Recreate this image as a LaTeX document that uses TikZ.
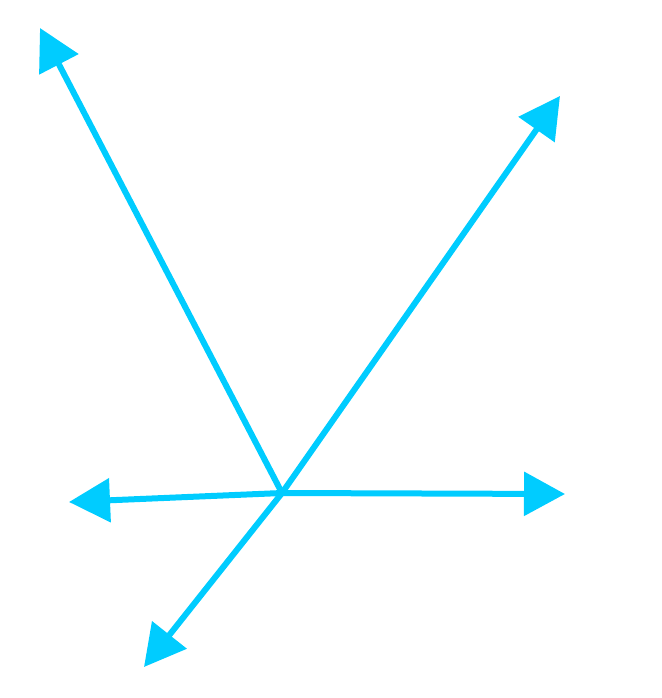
\documentclass[tikz,border=0pt]{standalone}
\usetikzlibrary{arrows.meta}
\definecolor{raycyan}{RGB}{0,204,255}
\begin{document}
\begin{tikzpicture}[x=1pt,y=-1pt,
  ray/.style={draw=raycyan,line width=6pt,-{Triangle[length=41pt,width=43pt,fill=raycyan]}}]
\useasboundingbox (0,0) rectangle (661,698);
\coordinate (o) at (282,493);
\coordinate (ul) at (40,28);
\coordinate (ur) at (560,96);
\coordinate (l) at (69,502);
\coordinate (r) at (565,494);
\coordinate (ll) at (144,667);
\draw[ray] (o) -- (ul);
\draw[ray] (o) -- (ur);
\draw[ray] (o) -- (l);
\draw[ray] (o) -- (r);
\draw[ray] (o) -- (ll);
\end{tikzpicture}
\end{document}
